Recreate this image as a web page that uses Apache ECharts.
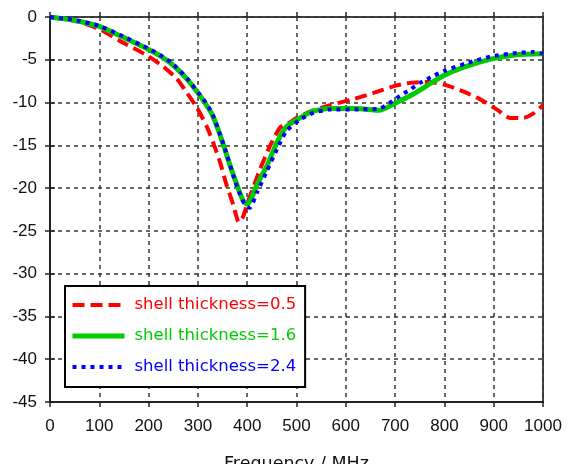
<!DOCTYPE html>
<html>
<head>
<meta charset="utf-8">
<script src="https://cdn.jsdelivr.net/npm/echarts@6/dist/echarts.min.js"></script>
<style>
html,body{margin:0;padding:0;background:#fff;}
#chart{width:569px;height:464px;}
</style>
</head>
<body>
<div id="chart"></div>
<script>
// Series names
const seriesNames = ['shell thickness=0.5', 'shell thickness=1.6', 'shell thickness=2.4'];

// shell thickness = 0.5
const freqA = [0, 50, 100, 142, 197, 230, 257, 277, 298, 318, 333, 345, 358, 372, 383, 392, 400, 410, 426, 446, 467, 487, 500, 530, 568, 609, 655, 703, 730, 770, 800, 838, 872, 906, 933, 960, 980, 1000];
const valA  = [0, -0.45, -1.4, -2.8, -4.5, -5.8, -7.2, -8.8, -10.6, -12.8, -15.0, -17.0, -19.6, -22.0, -24.0, -23.3, -21.8, -20.3, -17.8, -15.1, -12.9, -12.3, -11.8, -11.0, -10.3, -9.7, -8.9, -8.0, -7.7, -7.6, -7.9, -8.7, -9.6, -10.8, -11.8, -11.8, -11.3, -10.3];

// shell thickness = 1.6
const freqB = [0, 50, 100, 142, 200, 225, 245, 262, 280, 298, 314, 328, 340, 352, 365, 379, 392, 400, 410, 419, 440, 460, 480, 507, 534, 568, 620, 669, 703, 737, 771, 797, 838, 896, 947, 1000];
const valB  = [0, -0.4, -1.1, -2.2, -3.8, -4.6, -5.4, -6.3, -7.4, -8.7, -10.0, -11.3, -13.0, -15.0, -17.3, -19.6, -21.5, -21.9, -21.0, -19.7, -17.4, -14.7, -12.8, -11.8, -11.0, -10.7, -10.7, -10.9, -10.0, -9.0, -7.8, -6.9, -5.9, -4.9, -4.4, -4.3];

// shell thickness = 2.4
const freqC = [0, 50, 100, 142, 200, 225, 245, 262, 280, 300, 316, 330, 352, 379, 395, 405, 420, 440, 460, 480, 507, 534, 568, 620, 669, 690, 710, 730, 751, 777, 800, 845, 896, 947, 980, 1000];
const valC  = [0, -0.35, -1.05, -2.1, -3.7, -4.5, -5.3, -6.2, -7.3, -8.8, -10.0, -11.4, -14.9, -19.8, -21.9, -22.3, -20.5, -18.0, -15.5, -13.3, -12.0, -11.2, -10.8, -10.8, -10.7, -10.0, -9.2, -8.5, -7.7, -6.9, -6.3, -5.4, -4.6, -4.2, -4.1, -4.3];

// Axis settings
const xMin = 0, xMax = 1000, xStep = 100;
const yMin = -45, yMax = 0, yStep = 5;
const xTitle = 'Frequency / MHz';

const colors = ['#ff0000', '#00cc00', '#0000ff'];
const lineWidths = [4, 5, 4];

function pairs(xs, ys){ return xs.map((x,i)=>[x, ys[i]]); }

const FONT = 'DejaVu Sans';
const TICKFONT = 'Liberation Sans';
const chart = echarts.init(document.getElementById('chart'), null, {renderer:'canvas'});

const baseX = {type:'value', min:xMin, max:xMax, interval:xStep, position:'bottom'};
const baseY = {type:'value', min:yMin, max:yMax, interval:yStep, position:'left'};

chart.setOption({
  animation:false,
  backgroundColor:'#ffffff',
  grid:{left:50, right:26, top:17, bottom:62, outerBoundsMode:'none', containLabel:false,
        show:true, borderColor:'#444', borderWidth:2, backgroundColor:'transparent'},
  xAxis:[
    Object.assign({}, baseX, {
      name:xTitle, nameLocation:'middle', nameGap:53,
      nameTextStyle:{fontFamily:FONT, fontSize:17.5, color:'#111'},
      axisLine:{show:true, onZero:false, lineStyle:{color:'#222', width:2}},
      axisTick:{show:true, inside:false, length:5, lineStyle:{color:'#222', width:1.5}},
      axisLabel:{fontFamily:TICKFONT, fontSize:17, color:'#111', margin:16, formatter:v=>String(v)},
      splitLine:{show:true, lineStyle:{color:'#333', width:1.5, type:[4,4]}}
    }),
    Object.assign({}, baseX, {
      axisLine:{show:false},
      axisTick:{show:true, inside:true, length:5, lineStyle:{color:'#222', width:1.5}},
      axisLabel:{show:false}, splitLine:{show:false}
    })
  ],
  yAxis:[
    Object.assign({}, baseY, {
      axisLine:{show:true, onZero:false, lineStyle:{color:'#222', width:2}},
      axisTick:{show:true, inside:false, length:5, lineStyle:{color:'#222', width:1.5}},
      axisLabel:{fontFamily:TICKFONT, fontSize:17, color:'#111', margin:13, formatter:v=>String(v)},
      splitLine:{show:true, lineStyle:{color:'#333', width:1.5, type:[4,4]}}
    }),
    Object.assign({}, baseY, {
      axisLine:{show:false},
      axisTick:{show:true, inside:true, length:5, lineStyle:{color:'#222', width:1.5}},
      axisLabel:{show:false}, splitLine:{show:false}
    })
  ],
  legend:{
    orient:'vertical', left:65, top:286,
    backgroundColor:'#fff', borderColor:'#000', borderWidth:2, borderRadius:0,
    padding:[9,9,10,5], itemWidth:52, itemHeight:14, itemGap:11,
    itemStyle:{color:'rgba(0,0,0,0)', borderColor:'rgba(0,0,0,0)', borderWidth:0, opacity:0},
    data: seriesNames.map((n,i)=>({name:n, textStyle:{color:colors[i]},
      lineStyle:{width:lineWidths[i]}})),
    textStyle:{fontFamily:FONT, fontSize:16.5, lineHeight:20, padding:[0,0,0,5]}
  },
  series:[
    {name:seriesNames[0], type:'line', data:pairs(freqA, valA), showSymbol:false, symbol:'none', smooth:0.2,
     color:colors[0], lineStyle:{color:colors[0], width:lineWidths[0], type:[12,6], cap:'butt'}},
    {name:seriesNames[1], type:'line', data:pairs(freqB, valB), showSymbol:false, symbol:'none', smooth:0.2,
     color:colors[1], lineStyle:{color:colors[1], width:lineWidths[1]}},
    {name:seriesNames[2], type:'line', data:pairs(freqC, valC), showSymbol:false, symbol:'none', smooth:0.2,
     color:colors[2], lineStyle:{color:colors[2], width:lineWidths[2], type:[4,5], cap:'butt'}}
  ]
});
</script>
</body>
</html>
